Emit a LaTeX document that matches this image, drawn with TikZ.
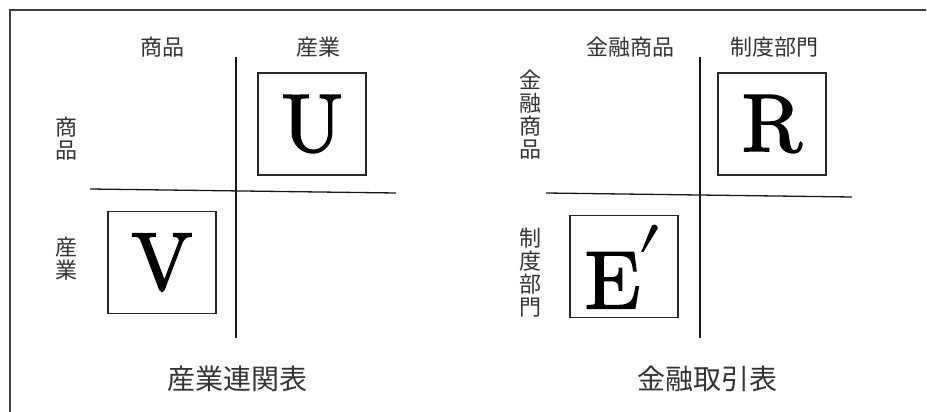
\documentclass[tikz,border=0pt]{standalone}
\usepackage{fontspec}
\usepackage{unicode-math}
\usepackage{graphicx}
\setmathfont{Latin Modern Math}
\newfontfamily\jp{Noto Sans CJK JP}
\newfontfamily\bigrm{lmroman10-regular.otf}[FakeBold=2]
\begin{document}
\begin{tikzpicture}[x=1pt,y=-1pt,
  lbl/.style={font=\jp\fontsize{22}{23}\selectfont, inner sep=0pt, text=black!80},
  vlbl/.style={lbl, align=center},
  captxt/.style={font=\jp\fontsize{28}{30}\selectfont, inner sep=0pt, text=black!80},
  mat/.style={draw=black!85, line width=1.1pt, minimum width=108pt, minimum height=102pt, inner sep=0pt, font=\bigrm\fontsize{82}{82}\selectfont},
  axisline/.style={draw=black!90, line width=1.3pt},
  frameline/.style={draw=black!75, line width=2pt}]
\useasboundingbox (0,0) rectangle (927,412);
% frame
\coordinate (fb) at (10,413);
\coordinate (fc) at (10,10.5);
\coordinate (fr) at (926,10.5);
\draw[frameline] (fb) -- (fc) -- (fr);

% ---- left table ----
\node[lbl] (lt1) at (162,47) {商品};
\node[lbl] (lt2) at (318,47) {産業};
\node[vlbl] (ll1) at (66,139) {商\\品};
\node[vlbl] (ll2) at (66,259) {産\\業};
\node[mat] (U) at (312,124) {U};
\node[mat] (V) at (162,262.5) {V};
\coordinate (lv1) at (236,57);
\coordinate (lv2) at (236,338);
\coordinate (lh1) at (90,189);
\coordinate (lh2) at (396,193);
\draw[axisline] (lv1) -- (lv2);
\draw[axisline] (lh1) -- (lh2);
\node[captxt] (lcap) at (237,379) {産業連関表};

% ---- right table ----
\node[mat] (R) at (772,124) {R};
\node[lbl] (rt1) at (630,47) {金融商品};
\node[lbl] (rt2) at (774,47) {制度部門};
\node[vlbl] (rl1) at (530,115) {金\\融\\商\\品};
\node[vlbl] (rl2) at (530,273) {制\\度\\部\\門};
\node[mat] (E) at (624,266.5) {E\kern-4pt\raisebox{19pt}{\scalebox{1.5}{$\scriptstyle\prime$}}};
\coordinate (rv1) at (700,57);
\coordinate (rv2) at (700,338);
\coordinate (rh1) at (546,193);
\coordinate (rh2) at (852,197);
\draw[axisline] (rv1) -- (rv2);
\draw[axisline] (rh1) -- (rh2);
\node[captxt] (rcap) at (707,379) {金融取引表};
\end{tikzpicture}
\end{document}
